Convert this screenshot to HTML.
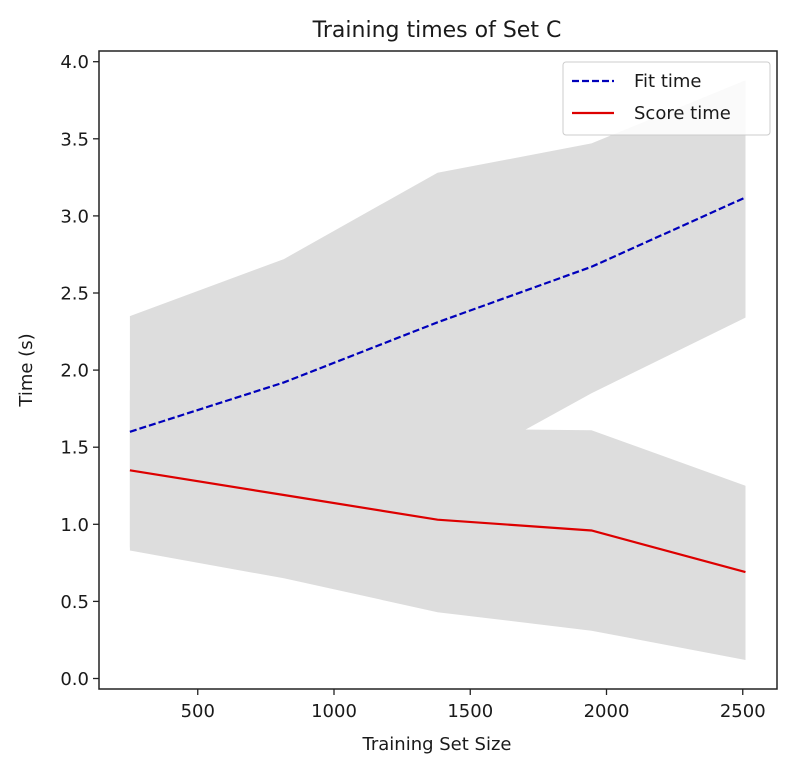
<!DOCTYPE html>
<html><head><meta charset="utf-8"><style>
body{margin:0;background:#fff;}
text{font-family:"DejaVu Sans","Liberation Sans",sans-serif;fill:#1a1a1a;}
</style></head><body>
<svg width="790" height="771" xmlns="http://www.w3.org/2000/svg">
<g id="g"></g>
</svg>
<script>
const sizes=[251,816,1380,1945,2510];
const fitMean=[1.60,1.92,2.31,2.67,3.12];
const fitUpper=[2.35,2.72,3.28,3.47,3.88];
const fitLower=[0.85,1.10,1.30,1.85,2.34];
const scoreMean=[1.35,1.19,1.03,0.96,0.69];
const scoreUpper=[1.87,1.72,1.62,1.61,1.25];
const scoreLower=[0.83,0.65,0.43,0.31,0.12];
const xTicks=[500,1000,1500,2000,2500];
const yTicks=[0,0.5,1,1.5,2,2.5,3,3.5,4];
const L=99,R=777,T=51,B=689;
const sx=v=>61.5+v*0.2725;
const sy=v=>678.5-v*154.2;
const g=document.getElementById('g');
const NS='http://www.w3.org/2000/svg';
function mk(t,a,txt){const e=document.createElementNS(NS,t);for(const k in a)e.setAttribute(k,a[k]);if(txt!==undefined)e.textContent=txt;g.appendChild(e);return e;}
function band(u,l,name){const p=sizes.map((s,i)=>sx(s)+','+sy(u[i])).concat(sizes.map((s,i)=>sx(s)+','+sy(l[i])).reverse());
const e=mk('polygon',{points:p.join(' '),fill:'#dddddd'});

}
band(fitUpper,fitLower,'fit-time-band');
band(scoreUpper,scoreLower,'score-time-band');
let e=mk('polyline',{points:sizes.map((s,i)=>sx(s)+','+sy(fitMean[i])).join(' '),fill:'none',stroke:'#0000bb','stroke-width':2.2,'stroke-dasharray':'7,3'});


e=mk('polyline',{points:sizes.map((s,i)=>sx(s)+','+sy(scoreMean[i])).join(' '),fill:'none',stroke:'#dd0000','stroke-width':2.2});


e=mk('rect',{x:L,y:T,width:R-L,height:B-T,fill:'none',stroke:'#222','stroke-width':1.5});


xTicks.forEach(v=>{mk('line',{x1:sx(v),x2:sx(v),y1:B,y2:B+6,stroke:'#222','stroke-width':1.3});
e=mk('text',{x:sx(v),y:B+28,'text-anchor':'middle','font-size':18},v);

});
yTicks.forEach(v=>{mk('line',{x1:L-6,x2:L,y1:sy(v),y2:sy(v),stroke:'#222','stroke-width':1.3});
e=mk('text',{x:L-10,y:sy(v)+6.5,'text-anchor':'end','font-size':18},v.toFixed(1));

});
e=mk('text',{x:437,y:37,'text-anchor':'middle','font-size':22},'Training times of Set C');


e=mk('text',{x:437,y:750,'text-anchor':'middle','font-size':18},'Training Set Size');


e=mk('text',{x:32,y:370,'text-anchor':'middle','font-size':18,transform:'rotate(-90 32 370)'},'Time (s)');


e=mk('rect',{x:563,y:62,width:207,height:73,rx:3,fill:'#fff','fill-opacity':0.85,stroke:'#ccc'});


mk('line',{x1:572,x2:614,y1:81,y2:81,stroke:'#0000bb','stroke-width':2.2,'stroke-dasharray':'7,3'});
e=mk('text',{x:634,y:87,'font-size':18},'Fit time');


mk('line',{x1:572,x2:614,y1:113,y2:113,stroke:'#dd0000','stroke-width':2.2});
e=mk('text',{x:634,y:119,'font-size':18},'Score time');


</script>
</body></html>
